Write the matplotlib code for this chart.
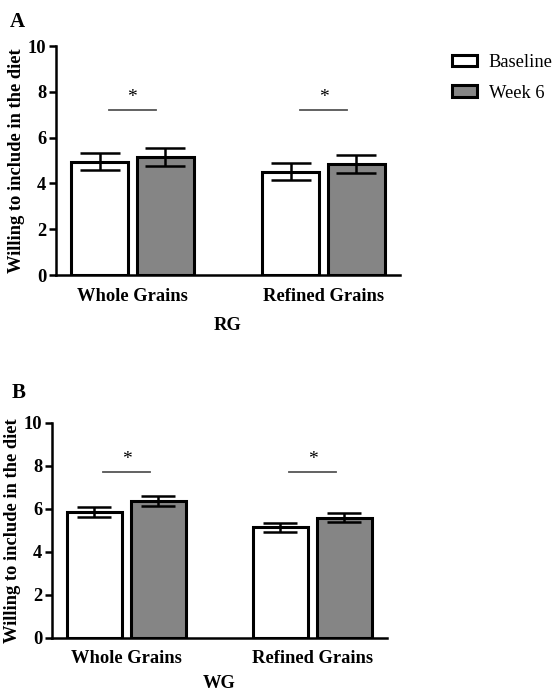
import matplotlib
matplotlib.use("Agg")
import matplotlib.pyplot as plt
import numpy as np

plt.rcParams['font.family'] = ['Liberation Serif', 'DejaVu Serif']

categories = ['Whole Grains', 'Refined Grains']
series = ['Baseline', 'Week 6']

# panel A (RG)
rg_baseline = [4.95, 4.52]
rg_baseline_err = [0.37, 0.38]
rg_week6 = [5.16, 4.85]
rg_week6_err = [0.40, 0.40]

# panel B (WG)
wg_baseline = [5.87, 5.14]
wg_baseline_err = [0.23, 0.22]
wg_week6 = [6.37, 5.58]
wg_week6_err = [0.22, 0.21]

sig_y = {'A': 7.2, 'B': 7.7}

fig = plt.figure(figsize=(5.6, 6.94), dpi=100)
axA = fig.add_axes([0.100, 0.6037, 0.614, 0.330])
axB = fig.add_axes([0.0929, 0.0807, 0.598, 0.310])

x = np.arange(len(categories))
w = 0.30
off = 0.172
fs = 13.3


def draw(ax, base, base_err, wk, wk_err, sy, xlabel, capsize, xpad):
    ax.bar(x - off, base, w, color='white', edgecolor='black', linewidth=2.2,
           yerr=base_err, capsize=capsize,
           error_kw=dict(elinewidth=1.8, capthick=1.8, ecolor='black'),
           label=series[0], zorder=2)
    ax.bar(x + off, wk, w, color='#858585', edgecolor='black', linewidth=2.2,
           yerr=wk_err, capsize=capsize,
           error_kw=dict(elinewidth=1.8, capthick=1.8, ecolor='black'),
           label=series[1], zorder=2)
    for xi in x:
        ax.plot([xi - 0.125, xi + 0.125], [sy, sy], color='#555555', lw=1.3)
        ax.text(xi, sy + 0.2, '*', ha='center', va='bottom', fontsize=14)
    ax.set_xlim(-0.4, 1.4)
    ax.set_ylim(0, 10)
    ax.set_yticks([0, 2, 4, 6, 8, 10])
    ax.set_xticks(x)
    ax.set_xticklabels(categories, fontsize=fs, fontweight='bold')
    ax.tick_params(axis='x', length=0, pad=9)
    ax.tick_params(axis='y', length=5, width=1.8, labelsize=fs, pad=2)
    for lab in ax.get_yticklabels():
        lab.set_fontweight('bold')
    ax.spines['top'].set_visible(False)
    ax.spines['right'].set_visible(False)
    ax.spines['left'].set_linewidth(1.8)
    ax.spines['bottom'].set_linewidth(1.8)
    ax.set_ylabel('Willing to include in the diet', fontsize=fs,
                  fontweight='bold', labelpad=2)
    ax.set_xlabel(xlabel, fontsize=fs, fontweight='bold', labelpad=xpad)


draw(axA, rg_baseline, rg_baseline_err, rg_week6, rg_week6_err, sig_y['A'], 'RG', 14.5, 9)
draw(axB, wg_baseline, wg_baseline_err, wg_week6, wg_week6_err, sig_y['B'], 'WG', 12, 5.5)

fig.text(0.018, 0.982, 'A', fontsize=15, fontweight='bold', va='top')
fig.text(0.020, 0.448, 'B', fontsize=15, fontweight='bold', va='top')

handles, labels = axA.get_legend_handles_labels()
fig.legend(handles, labels, loc='upper left', bbox_to_anchor=(0.79, 0.936),
           frameon=False, fontsize=fs, handlelength=1.35, handleheight=0.55,
           labelspacing=0.75, handletextpad=0.65, borderpad=0)

plt.savefig('out.png', dpi=100, facecolor='white')
